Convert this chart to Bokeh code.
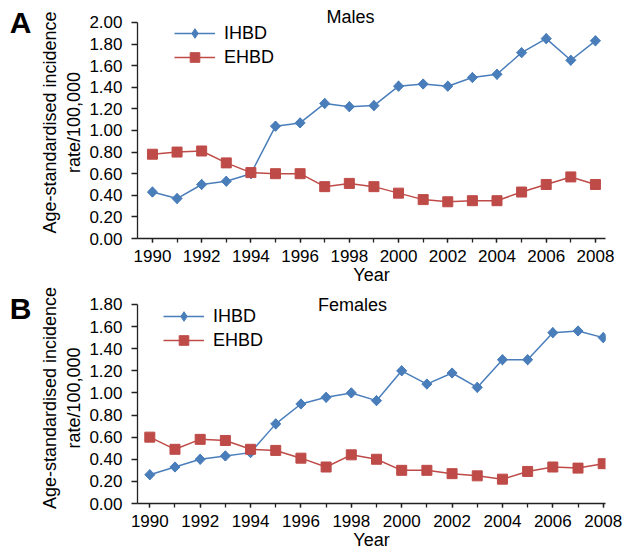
import math
from bokeh.plotting import figure
from bokeh.layouts import column
from bokeh.models import (Label, Legend, LegendItem, FixedTicker, LinearAxis,
                          NumeralTickFormatter, Range1d, ColumnDataSource)
from bokeh.embed import file_html
from bokeh.resources import INLINE

# ---------------- data ----------------
years = list(range(1990, 2009))
year_labels = list(range(1990, 2009, 2))

males_ihbd = [0.43, 0.37, 0.50, 0.53, 0.60, 1.04, 1.07, 1.25, 1.22, 1.23,
              1.41, 1.43, 1.41, 1.49, 1.52, 1.72, 1.85, 1.65, 1.83]
males_ehbd = [0.78, 0.80, 0.81, 0.70, 0.61, 0.60, 0.60, 0.48, 0.51, 0.48,
              0.42, 0.36, 0.34, 0.35, 0.35, 0.43, 0.50, 0.57, 0.50]

females_ihbd = [0.26, 0.33, 0.40, 0.43, 0.46, 0.72, 0.90, 0.96, 1.00, 0.93,
                1.20, 1.08, 1.18, 1.05, 1.30, 1.30, 1.545, 1.56, 1.50]
females_ehbd = [0.60, 0.49, 0.58, 0.57, 0.49, 0.48, 0.41, 0.33, 0.44, 0.40,
                0.30, 0.30, 0.27, 0.25, 0.22, 0.29, 0.33, 0.32, 0.36]

males_yticks = [0.0, 0.2, 0.4, 0.6, 0.8, 1.0, 1.2, 1.4, 1.6, 1.8, 2.0]
females_yticks = [0.0, 0.2, 0.4, 0.6, 0.8, 1.0, 1.2, 1.4, 1.6, 1.8]

series_names = ["IHBD", "EHBD"]
ytitle = "Age-standardised incidence\nrate/100,000"
xtitle = "Year"

# ---------------- style ----------------
FONT = "Liberation Sans"
BLUE = "#4A7EBB"
RED = "#BE4B48"
AXIS = "#222222"
W = 624
BELOW = 48   # space taken by x axis + its title


def make_panel(letter, title, ihbd, ehbd, yticks, height, page_top,
               frame_left, frame_right, frame_top, y_top_px, frame_bottom,
               legend_left, legend_top, legend_gap, title_y, letter_y):
    ymax = yticks[-1]
    x_px_1990, x_px_2008 = 149.3, 602.7
    sx = (x_px_2008 - x_px_1990) / 18.0
    x0 = 1990 - (x_px_1990 - frame_left) / sx
    x1 = 2008 + (frame_right - x_px_2008) / sx
    sy = (frame_bottom - y_top_px) / ymax
    y1 = ymax + (y_top_px - frame_top) / sy

    def dx(px):
        return 1990 + (px - x_px_1990) / sx

    def dy(py):
        return (frame_bottom - py) / sy

    mb_top = frame_top - page_top
    mb_left = frame_left
    mb_right = W - frame_right
    mb_bottom = height - mb_top - (frame_bottom - frame_top)

    p = figure(width=W, height=height, output_backend="svg",
               toolbar_location=None,
               x_range=Range1d(x0, x1), y_range=Range1d(0, y1),
               min_border_left=int(round(mb_left)),
               min_border_right=int(round(mb_right)),
               min_border_top=int(round(mb_top)),
               min_border_bottom=int(round(mb_bottom)))
    p.outline_line_color = None
    p.xgrid.grid_line_color = None
    p.ygrid.grid_line_color = None
    p.background_fill_color = "white"
    p.border_fill_color = "white"

    # x axis
    xa = p.xaxis[0]
    xa.ticker = FixedTicker(ticks=year_labels, minor_ticks=years)
    xa.axis_line_color = AXIS
    xa.axis_line_width = 1.3
    xa.major_tick_line_color = AXIS
    xa.minor_tick_line_color = AXIS
    xa.major_tick_line_width = 1.3
    xa.minor_tick_line_width = 1.3
    xa.major_tick_in = 0
    xa.major_tick_out = 4
    xa.minor_tick_in = 0
    xa.minor_tick_out = 4
    xa.major_label_standoff = 7
    xa.major_label_text_font = FONT
    xa.major_label_text_font_size = "17px"
    xa.major_label_text_color = "black"
    xa.axis_label = xtitle
    xa.axis_label_text_font = FONT
    xa.axis_label_text_font_size = "18px"
    xa.axis_label_text_font_style = "normal"
    xa.axis_label_text_color = "black"
    xa.axis_label_text_align = "right"
    xa.axis_label_standoff = 0

    # y axis
    ya = p.yaxis[0]
    ya.bounds = (0, ymax)
    ya.ticker = FixedTicker(ticks=yticks, minor_ticks=[])
    ya.formatter = NumeralTickFormatter(format="0.00")
    ya.axis_line_color = AXIS
    ya.axis_line_width = 1.3
    ya.major_tick_line_color = AXIS
    ya.major_tick_line_width = 1.3
    ya.major_tick_in = 0
    ya.major_tick_out = 6
    ya.minor_tick_line_color = None
    ya.major_label_standoff = 9
    ya.major_label_text_font = FONT
    ya.major_label_text_font_size = "17px"
    ya.major_label_text_color = "black"
    ya.axis_label = ytitle
    ya.axis_label_text_font = FONT
    ya.axis_label_text_font_size = "18px"
    ya.axis_label_text_font_style = "normal"
    ya.axis_label_text_color = "black"
    ya.axis_label_standoff = 2

    # outer axis carrying the panel letter
    letter_tick = dy(letter_y)
    la = LinearAxis(ticker=FixedTicker(ticks=[letter_tick], minor_ticks=[]),
                    major_label_overrides={letter_tick: letter},
                    axis_line_color=None, major_tick_line_color=None,
                    minor_tick_line_color=None, major_tick_out=0, major_tick_in=0,
                    major_label_standoff=6,
                    major_label_text_font=FONT, major_label_text_font_size="30px",
                    major_label_text_font_style="bold",
                    major_label_text_color="black")
    p.add_layout(la, "left")

    src = ColumnDataSource(dict(x=years, ihbd=ihbd, ehbd=ehbd))
    l1 = p.line("x", "ihbd", source=src, line_color=BLUE, line_width=1.5)
    # diamond (used as legend key) hidden under the rotated-square markers
    key1 = p.scatter("x", "ihbd", source=src, marker="diamond", size=10,
                     fill_color=BLUE, line_color=BLUE)
    p.scatter("x", "ihbd", source=src, marker="square", angle=math.pi / 4,
              size=7.2, fill_color=BLUE, line_color=BLUE)
    l2 = p.line("x", "ehbd", source=src, line_color=RED, line_width=1.5)
    m2 = p.scatter("x", "ehbd", source=src, marker="square", size=10,
                   fill_color=RED, line_color=RED)

    legend = Legend(items=[LegendItem(label=series_names[0], renderers=[l1, key1]),
                           LegendItem(label=series_names[1], renderers=[l2, m2])],
                    location=(int(round(legend_left - frame_left)),
                              int(round(frame_bottom - (legend_top + 2 * legend_gap)))),
                    padding=0, margin=0, spacing=0,
                    glyph_width=41, glyph_height=legend_gap,
                    label_height=legend_gap, label_standoff=9,
                    border_line_color=None, background_fill_alpha=0,
                    label_text_font=FONT, label_text_font_size="18px",
                    label_text_color="black")
    p.add_layout(legend)

    p.add_layout(Label(x=dx(352), y=dy(title_y), text=title,
                       text_font=FONT, text_font_size="18px",
                       text_align="center", text_baseline="middle",
                       text_color="black"))
    return p


pA = make_panel("A", "Males", males_ihbd, males_ehbd, males_yticks,
                height=239 + BELOW, page_top=0,
                frame_left=134, frame_right=613, frame_top=6, y_top_px=22,
                frame_bottom=239,
                legend_left=170.7, legend_top=22, legend_gap=24,
                title_y=17, letter_y=22.5)

top_b = 239 + BELOW
pB = make_panel("B", "Females", females_ihbd, females_ehbd, females_yticks,
                height=504 + BELOW - top_b, page_top=top_b,
                frame_left=137, frame_right=605, frame_top=292, y_top_px=304,
                frame_bottom=504,
                legend_left=163.3, legend_top=304.7, legend_gap=24,
                title_y=305, letter_y=299)

layout = column(pA, pB, spacing=0)

open("out.html", "w").write(file_html(layout, INLINE))
